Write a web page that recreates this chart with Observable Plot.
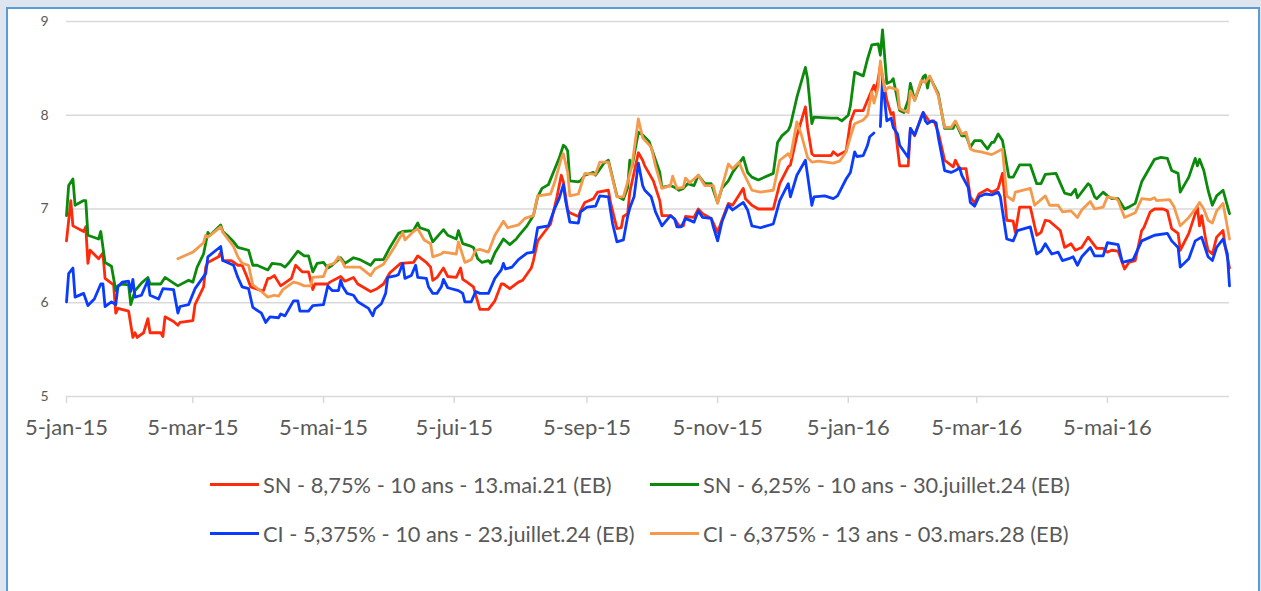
<!DOCTYPE html>
<html>
<head>
<meta charset="utf-8">
<script src="https://cdn.jsdelivr.net/npm/d3@7"></script>
<script src="https://cdn.jsdelivr.net/npm/@observablehq/plot@0.6"></script>
<style>
  html, body { margin: 0; padding: 0; width: 1261px; height: 591px; overflow: hidden; background: #dfe5ee; }
  #panel { position: absolute; left: 6px; top: 7px; width: 1250px; height: 620px; background: #fff; border: 2px solid #5a9dd6; }
  #chart { position: absolute; left: 0; top: 0; }
  #legend { position: absolute; left: 0; top: 0; width: 1261px; height: 591px; font-family: Lato, "Open Sans", sans-serif; color: #595959; }
  .item { position: absolute; display: flex; align-items: center; white-space: nowrap; font-size: 21.8px; }
  .sw { width: 49px; height: 3px; margin-right: 4px; }
</style>
</head>
<body>
<div id="panel"></div>
<div id="chart"></div>
<div id="legend"></div>
<script>
// Series: [days since 5 Jan 2015, yield %]
const seriesNames = [
  "SN - 8,75% - 10 ans - 13.mai.21 (EB)",
  "SN - 6,25% - 10 ans - 30.juillet.24 (EB)",
  "CI - 5,375% - 10 ans - 23.juillet.24 (EB)",
  "CI - 6,375% - 13 ans - 03.mars.28 (EB)"
];
const seriesColors = ["#ff2a0a", "#0b8a0b", "#0a3cff", "#f59a4c"];

const sn875 = [[0,6.66],[2,7.09],[3,6.82],[8,6.76],[9,6.81],[10,6.42],[11,6.56],[15,6.47],[17,6.53],[18,6.26],[22,6.19],[23,5.89],[24,5.94],[29,5.91],[31,5.63],[32,5.68],[33,5.63],[36,5.68],[38,5.83],[39,5.68],[44,5.68],[45,5.64],[46,5.85],[50,5.80],[52,5.76],[53,5.79],[59,5.81],[60,5.98],[64,6.17],[65,6.38],[66,6.43],[71,6.49],[72,6.54],[73,6.45],[77,6.45],[80,6.40],[82,6.40],[84,6.29],[86,6.17],[91,6.13],[92,6.13],[94,6.26],[95,6.26],[97,6.29],[100,6.18],[105,6.26],[107,6.40],[110,6.33],[113,6.33],[115,6.14],[116,6.20],[122,6.20],[123,6.22],[128,6.28],[130,6.23],[134,6.27],[136,6.20],[142,6.12],[145,6.15],[148,6.20],[151,6.32],[156,6.42],[162,6.43],[164,6.50],[168,6.43],[170,6.38],[171,6.24],[173,6.27],[176,6.37],[178,6.28],[182,6.27],[184,6.37],[185,6.25],[187,6.22],[190,6.17],[193,5.93],[197,5.93],[200,6.02],[203,6.20],[204,6.20],[207,6.15],[211,6.22],[213,6.24],[217,6.37],[218,6.45],[220,6.66],[222,6.72],[226,6.84],[229,7.13],[231,7.36],[232,7.29],[234,6.99],[235,6.96],[239,6.92],[240,6.98],[242,7.07],[246,7.11],[248,7.18],[253,7.20],[254,7.07],[257,6.79],[259,6.80],[260,6.92],[262,6.95],[263,7.18],[265,7.39],[267,7.60],[269,7.52],[270,7.46],[274,7.30],[277,7.09],[278,6.93],[282,6.93],[284,6.89],[286,6.82],[288,6.82],[289,6.92],[293,6.91],[295,7.00],[297,6.95],[301,6.90],[304,6.75],[306,6.88],[309,7.06],[311,7.04],[316,7.22],[317,7.11],[320,7.04],[323,7.00],[330,7.00],[333,7.27],[337,7.45],[338,7.47],[341,7.78],[345,8.09],[346,7.87],[348,7.59],[349,7.57],[357,7.57],[358,7.61],[360,7.57],[364,7.62],[365,7.77],[366,7.93],[368,8.05],[372,8.05],[374,8.16],[377,8.32],[378,8.25],[380,8.53],[383,8.16],[385,8.01],[386,8.03],[389,7.46],[393,7.46],[394,7.86],[396,7.78],[399,7.98],[400,8.03],[403,7.93],[405,7.94],[407,7.82],[410,7.52],[414,7.45],[415,7.52],[417,7.43],[420,7.43],[422,7.13],[424,7.06],[426,7.16],[430,7.21],[432,7.18],[434,7.20],[435,7.22],[437,7.38],[439,6.88],[442,6.87],[443,6.75],[445,7.02],[450,7.02],[453,6.72],[455,6.75],[457,6.88],[459,6.87],[464,6.77],[466,6.59],[469,6.63],[471,6.56],[474,6.59],[477,6.70],[481,6.58],[484,6.58],[486,6.54],[488,6.56],[491,6.55],[494,6.36],[496,6.43],[499,6.45],[502,6.77],[503,6.80],[506,6.97],[508,7.00],[512,7.00],[514,6.98],[516,6.79],[519,6.74],[520,6.56],[524,6.74],[528,7.02],[529,6.82],[530,6.93],[532,6.66],[533,6.56],[535,6.52],[537,6.70],[540,6.77],[541,6.60],[543,6.37]];

const sn625 = [[0,6.93],[1,7.25],[3,7.32],[4,7.04],[8,7.09],[9,7.09],[10,6.72],[15,6.68],[16,6.76],[18,6.43],[21,6.39],[23,6.13],[24,6.18],[26,6.20],[29,6.19],[30,5.98],[32,6.13],[35,6.21],[38,6.27],[39,6.20],[44,6.20],[46,6.27],[50,6.21],[52,6.18],[57,6.24],[59,6.22],[61,6.38],[64,6.52],[66,6.75],[67,6.72],[72,6.83],[73,6.76],[75,6.72],[78,6.65],[80,6.59],[85,6.56],[87,6.40],[89,6.40],[94,6.35],[96,6.42],[100,6.41],[102,6.38],[104,6.43],[108,6.55],[111,6.50],[113,6.50],[115,6.33],[117,6.42],[120,6.43],[122,6.37],[124,6.40],[128,6.48],[130,6.42],[134,6.48],[137,6.46],[142,6.40],[144,6.46],[148,6.46],[151,6.59],[155,6.74],[157,6.76],[162,6.77],[164,6.85],[165,6.80],[169,6.77],[171,6.65],[176,6.78],[178,6.72],[182,6.68],[183,6.77],[185,6.63],[188,6.61],[190,6.59],[192,6.47],[194,6.43],[197,6.45],[198,6.42],[200,6.53],[204,6.68],[206,6.64],[207,6.62],[210,6.68],[211,6.71],[215,6.82],[218,6.93],[220,7.13],[222,7.22],[225,7.26],[228,7.43],[230,7.54],[232,7.68],[233,7.66],[234,7.62],[235,7.30],[239,7.29],[240,7.30],[242,7.36],[246,7.39],[247,7.36],[251,7.49],[253,7.52],[257,7.14],[260,7.10],[262,7.23],[263,7.52],[264,7.45],[265,7.57],[267,7.82],[269,7.79],[272,7.72],[274,7.59],[277,7.39],[278,7.23],[282,7.25],[284,7.23],[286,7.20],[288,7.22],[290,7.27],[293,7.25],[295,7.36],[298,7.27],[301,7.27],[304,7.07],[306,7.22],[309,7.30],[311,7.39],[316,7.55],[318,7.39],[320,7.34],[323,7.31],[330,7.38],[332,7.71],[334,7.78],[337,7.84],[338,7.89],[341,8.19],[345,8.51],[346,8.39],[348,7.91],[349,7.98],[357,7.97],[360,7.97],[362,7.94],[365,8.00],[366,8.10],[368,8.46],[372,8.42],[374,8.60],[376,8.75],[379,8.76],[380,8.64],[381,8.91],[383,8.34],[385,8.36],[386,8.39],[389,8.05],[391,8.03],[393,8.16],[394,8.34],[396,8.16],[400,8.41],[401,8.43],[402,8.29],[403,8.41],[407,8.23],[410,7.86],[414,7.86],[415,7.93],[418,7.78],[420,7.78],[422,7.66],[424,7.73],[427,7.73],[430,7.64],[432,7.71],[433,7.71],[435,7.80],[437,7.73],[440,7.34],[442,7.34],[445,7.47],[450,7.47],[453,7.27],[455,7.27],[457,7.37],[462,7.38],[466,7.17],[469,7.15],[471,7.21],[472,7.12],[477,7.27],[478,7.25],[480,7.13],[481,7.11],[484,7.18],[486,7.14],[488,7.11],[491,7.11],[494,7.00],[496,7.02],[499,7.06],[502,7.29],[505,7.41],[508,7.53],[511,7.55],[514,7.54],[516,7.41],[519,7.38],[520,7.18],[524,7.34],[527,7.54],[528,7.46],[529,7.53],[531,7.41],[533,7.20],[535,7.04],[537,7.14],[540,7.20],[543,6.95]];

const ci5375 = [[0,6.01],[1,6.31],[3,6.37],[4,6.06],[8,6.10],[10,5.97],[13,6.04],[16,6.20],[17,6.20],[18,5.96],[21,6.01],[23,5.98],[24,6.17],[26,6.22],[29,6.23],[30,6.12],[31,6.25],[32,6.06],[35,6.08],[38,6.24],[39,6.08],[43,6.04],[45,6.15],[50,6.14],[52,5.89],[53,5.96],[57,5.98],[60,6.15],[65,6.31],[66,6.49],[72,6.60],[73,6.45],[78,6.40],[80,6.27],[82,6.17],[85,6.15],[87,5.95],[91,5.89],[93,5.79],[95,5.85],[99,5.84],[100,5.88],[102,5.86],[106,6.02],[108,6.02],[109,5.91],[113,5.91],[115,5.97],[120,5.98],[122,6.18],[124,6.13],[127,6.13],[128,6.24],[129,6.17],[131,6.10],[134,6.08],[136,6.01],[141,5.94],[143,5.86],[144,5.93],[147,5.99],[149,6.10],[150,6.27],[154,6.29],[155,6.30],[157,6.42],[158,6.26],[161,6.29],[163,6.40],[164,6.27],[168,6.26],[169,6.17],[171,6.10],[173,6.10],[175,6.17],[176,6.25],[178,6.16],[183,6.13],[185,6.10],[186,6.01],[189,6.01],[191,6.12],[193,6.10],[197,6.10],[200,6.26],[203,6.35],[204,6.42],[205,6.36],[208,6.38],[211,6.46],[215,6.53],[218,6.54],[220,6.80],[225,6.82],[228,7.01],[230,7.11],[232,7.26],[233,7.09],[235,6.86],[239,6.85],[240,6.97],[243,7.02],[247,7.03],[249,7.14],[253,7.13],[255,6.84],[257,6.65],[260,6.67],[262,6.92],[263,7.01],[265,7.13],[267,7.49],[269,7.25],[270,7.20],[273,7.13],[275,6.97],[278,6.82],[282,6.93],[284,6.89],[285,6.81],[287,6.81],[289,6.90],[293,6.86],[295,6.98],[297,6.91],[301,6.90],[302,6.81],[304,6.66],[306,6.86],[309,7.04],[311,6.99],[316,7.07],[318,6.99],[320,6.82],[324,6.80],[330,6.84],[333,7.09],[335,7.18],[337,7.27],[338,7.13],[341,7.36],[345,7.52],[348,7.04],[349,7.13],[354,7.14],[358,7.11],[360,7.14],[364,7.32],[366,7.39],[368,7.61],[369,7.56],[372,7.57],[374,7.68],[375,7.77],[377,7.81],[378,null],[380,7.88],[381,8.39],[383,7.94],[385,7.97],[386,7.87],[388,7.80],[389,7.68],[393,7.55],[394,7.86],[396,7.79],[400,8.03],[401,7.94],[402,7.91],[404,7.94],[406,7.92],[407,7.77],[410,7.41],[413,7.39],[415,7.41],[417,7.44],[418,7.36],[421,7.23],[422,7.07],[424,7.03],[426,7.13],[429,7.16],[432,7.15],[435,7.18],[436,7.13],[439,6.68],[442,6.66],[444,6.77],[450,6.81],[453,6.52],[455,6.55],[457,6.63],[460,6.52],[463,6.54],[465,6.45],[468,6.47],[470,6.49],[472,6.40],[474,6.49],[478,6.59],[480,6.50],[484,6.50],[486,6.64],[491,6.62],[493,6.43],[498,6.46],[502,6.66],[506,6.70],[508,6.72],[514,6.74],[516,6.66],[519,6.59],[520,6.38],[524,6.47],[527,6.66],[530,6.70],[532,6.56],[533,6.49],[535,6.45],[537,6.59],[540,6.68],[542,6.52],[543,6.18]];

const ci6375 = [[52,6.47],[57,6.52],[59,6.54],[61,6.58],[64,6.64],[65,6.72],[66,6.70],[72,6.81],[73,6.75],[78,6.60],[80,6.49],[82,6.42],[85,6.40],[87,6.19],[91,6.12],[94,6.06],[97,6.08],[99,6.07],[101,6.14],[106,6.22],[108,6.21],[111,6.18],[114,6.18],[115,6.27],[120,6.28],[122,6.40],[125,6.42],[127,6.49],[129,6.43],[130,6.38],[137,6.38],[142,6.29],[144,6.36],[148,6.41],[153,6.59],[157,6.75],[158,6.67],[162,6.76],[164,6.79],[167,6.67],[170,6.63],[171,6.49],[175,6.52],[176,6.54],[182,6.52],[183,6.65],[186,6.43],[189,6.46],[191,6.56],[193,6.57],[197,6.54],[200,6.72],[204,6.87],[206,6.80],[211,6.83],[214,6.90],[218,6.93],[220,7.14],[226,7.16],[228,7.29],[231,7.54],[232,7.59],[234,7.39],[235,7.14],[239,7.16],[242,7.38],[247,7.37],[249,7.50],[253,7.50],[255,7.32],[257,7.13],[260,7.13],[262,7.29],[264,7.46],[267,7.96],[269,7.76],[273,7.66],[275,7.46],[278,7.22],[282,7.25],[283,7.35],[285,7.22],[288,7.23],[289,7.33],[291,7.28],[295,7.36],[298,7.25],[302,7.25],[304,7.06],[306,7.23],[309,7.48],[311,7.43],[314,7.50],[316,7.39],[320,7.20],[324,7.18],[330,7.20],[333,7.52],[337,7.59],[338,7.55],[341,7.93],[343,7.80],[346,7.55],[348,7.50],[351,7.51],[358,7.49],[361,7.51],[364,7.61],[366,7.77],[368,7.91],[372,7.95],[374,8.00],[376,8.25],[377,8.13],[379,8.30],[380,8.58],[382,8.26],[384,8.30],[388,8.27],[389,8.07],[393,8.03],[394,8.26],[396,8.16],[399,8.37],[401,8.35],[403,8.42],[405,8.31],[407,8.21],[410,7.87],[413,7.87],[415,7.94],[418,7.80],[420,7.82],[422,7.64],[424,7.62],[427,7.61],[432,7.58],[437,7.64],[439,7.14],[442,7.09],[443,7.18],[450,7.22],[452,7.04],[457,7.14],[459,7.04],[463,7.04],[465,6.97],[469,6.98],[472,6.91],[474,6.99],[478,7.08],[480,7.00],[484,7.02],[486,7.13],[490,7.11],[491,7.09],[494,6.91],[499,6.96],[502,7.11],[506,7.10],[508,7.12],[509,7.09],[515,7.10],[517,7.03],[520,6.82],[524,6.91],[527,7.00],[529,7.07],[531,7.00],[533,6.88],[535,6.85],[537,6.98],[540,7.06],[543,6.68]];

const yTicks = [5, 6, 7, 8, 9];
const xTickDates = ["2015-01-05","2015-03-05","2015-05-05","2015-07-05","2015-09-05","2015-11-05","2016-01-05","2016-03-05","2016-05-05"];
const xTickLabels = ["5-jan-15","5-mar-15","5-mai-15","5-jui-15","5-sep-15","5-nov-15","5-jan-16","5-mar-16","5-mai-16"];

const startMs = Date.UTC(2015, 0, 5);
const allSeries = [sn875, sn625, ci5375, ci6375];
const rows = [];
allSeries.forEach((s, k) => {
  s.forEach(([d, v]) => rows.push({series: seriesNames[k], date: new Date(startMs + d * 86400000), value: v}));
});
const tickDates = xTickDates.map(s => new Date(s + "T00:00:00Z"));

const chart = Plot.plot({
  width: 1261,
  height: 450,
  marginLeft: 66,
  marginRight: 32,
  marginTop: 21,
  marginBottom: 54,
  style: {background: "transparent", fontFamily: "Lato, 'Open Sans', sans-serif", color: "#595959", overflow: "visible"},
  x: {type: "utc", domain: [new Date(startMs), new Date(Date.UTC(2016, 6, 1))], label: null},
  y: {domain: [5, 9], label: null},
  marks: [
    Plot.ruleY(yTicks, {stroke: "#d9d9d9", strokeWidth: 1.5}),
    Plot.axisY({ticks: yTicks, tickFormat: d => String(d), tickSize: 0, tickPadding: 18, fontSize: 14, fill: "#595959", label: null}),
    Plot.axisX({ticks: tickDates, tickFormat: (d, i) => xTickLabels[i], tickSize: 7, tickPadding: 16, fontSize: 22, stroke: "#d9d9d9", strokeWidth: 1.5, fill: "#595959", label: null}),
    ...seriesNames.map((name, k) => Plot.line(rows.filter(r => r.series === name), {
      x: "date", y: "value", stroke: seriesColors[k], strokeWidth: 2.8, strokeLinejoin: "round"
    }))
  ]
});
document.getElementById("chart").appendChild(chart);

// Legend (HTML, below plot area)
const legendPos = [[210, 484], [650, 484], [210, 533], [650, 533]];
const legend = document.getElementById("legend");
seriesNames.forEach((name, k) => {
  const item = document.createElement("div");
  item.className = "item";
  item.style.left = legendPos[k][0] + "px";
  item.style.top = (legendPos[k][1] - 14) + "px";
  item.style.height = "28px";
  const sw = document.createElement("span");
  sw.className = "sw";
  sw.style.background = seriesColors[k];
  const tx = document.createElement("span");
  tx.textContent = name;
  item.appendChild(sw);
  item.appendChild(tx);
  legend.appendChild(item);
});
</script>
</body>
</html>
